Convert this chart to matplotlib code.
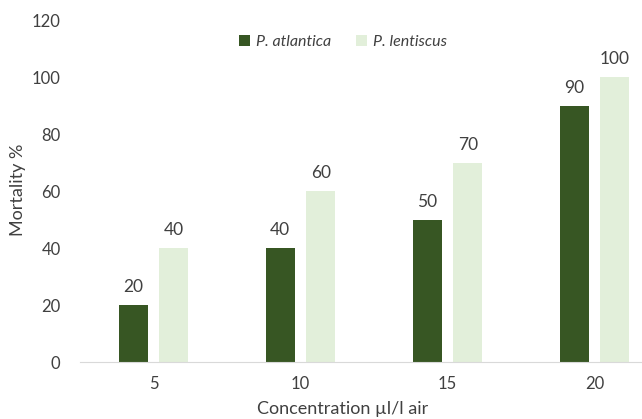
import numpy as np
import matplotlib.pyplot as plt

# data
concentrations = ["5", "10", "15", "20"]
atlantica = [20, 40, 50, 90]
lentiscus = [40, 60, 70, 100]
series_names = ["P. atlantica", "P. lentiscus"]

dark_green = "#375623"
light_green = "#E2EFDA"
text_col = "#404040"

plt.rcParams['font.family'] = ['Lato', 'DejaVu Sans']

fig = plt.figure(figsize=(6.42, 4.19), dpi=100)
# plot area runs a little past the right edge (the original is cropped)
ax = fig.add_axes([80 / 642, (419 - 362) / 419, 588 / 642, 342 / 419])

x = np.arange(len(concentrations))
w = 0.197
off = 0.139
b1 = ax.bar(x - off, atlantica, w, color=dark_green, label=series_names[0])
b2 = ax.bar(x + off, lentiscus, w, color=light_green, label=series_names[1])

for bars in (b1, b2):
    for rect in bars:
        ax.annotate(f"{rect.get_height():g}",
                    (rect.get_x() + rect.get_width() / 2, rect.get_height()),
                    xytext=(0, 7), textcoords="offset points",
                    ha="center", va="bottom", fontsize=12.5, color=text_col)

ax.set_xlim(-0.5, len(concentrations) - 0.5)
ax.set_ylim(0, 120)
ax.set_yticks(range(0, 121, 20))
ax.set_xticks(x)
ax.set_xticklabels(concentrations)
ax.tick_params(axis="both", length=0, labelsize=12, colors=text_col)
ax.tick_params(axis="y", pad=14)
ax.tick_params(axis="x", pad=10)

for s in ("top", "right", "left"):
    ax.spines[s].set_visible(False)
ax.spines["bottom"].set_color("#D9D9D9")

fig.text(18 / 642, 1 - 190 / 419, "Mortality %", rotation=90, ha="center",
         va="center", fontsize=13, color=text_col)
fig.text(343 / 642, 1 - 409 / 419, "Concentration µl/l air", ha="center",
         va="center", fontsize=13, color=text_col)

leg = fig.legend(handles=[b1, b2], loc="center", bbox_to_anchor=(343 / 642, 1 - 42 / 419),
                 ncol=2, frameon=False, fontsize=11.5, handlelength=0.7, handleheight=0.7,
                 handletextpad=0.4, columnspacing=1.5)
for t in leg.get_texts():
    t.set_fontstyle("italic")
    t.set_color(text_col)

plt.savefig("out.png", dpi=100)
